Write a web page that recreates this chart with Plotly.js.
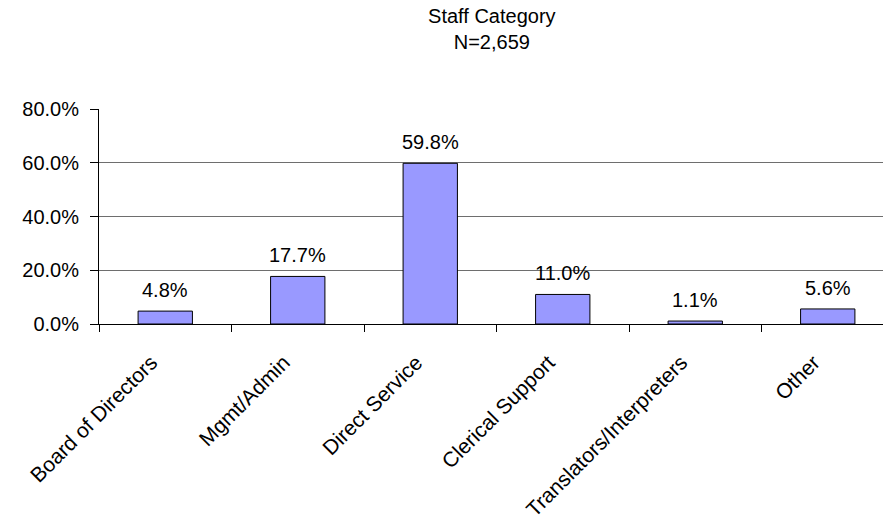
<!DOCTYPE html>
<html>
<head>
<meta charset="utf-8">
<script src="https://cdn.plot.ly/plotly-3.0.1.min.js"></script>
<style>html,body{margin:0;padding:0;background:#fff;}#chart{width:883px;height:529px;}</style>
</head>
<body>
<div id="chart"></div>
<script>
const categories = ["Board of Directors", "Mgmt/Admin", "Direct Service", "Clerical Support", "Translators/Interpreters", "Other"];
const percentages = [4.8, 17.7, 59.8, 11.0, 1.1, 5.6];
const yTickValues = [0, 20, 40, 60, 80];
const yTickLabels = ["0.0%", "20.0%", "40.0%", "60.0%", "80.0%"];
const chartTitle = "Staff Category<br>N=2,659";

const font = "Arial, 'Liberation Sans', sans-serif";
const fs = 20;

const trace = {
  type: "bar",
  x: categories,
  y: percentages,
  width: 0.41,
  marker: { color: "#9999FF", line: { color: "#000000", width: 1 } },
  hoverinfo: "none"
};

const labelAnnotations = categories.map((c, i) => ({
  x: c, y: percentages[i], xref: "x", yref: "y",
  text: percentages[i].toFixed(1) + "%",
  showarrow: false, xanchor: "center", yanchor: "bottom", yshift: 8,
  font: { family: font, size: fs, color: "#000" }
}));

const layout = {
  width: 883,
  height: 529,
  margin: { l: 99, r: 0, t: 109, b: 205, pad: 0 },
  paper_bgcolor: "#fff",
  plot_bgcolor: "#fff",
  showlegend: false,
  font: { family: font, size: fs, color: "#000" },
  title: {
    text: chartTitle,
    font: { family: font, size: fs, color: "#000" },
    x: 0.557, xref: "container", xanchor: "center",
    y: 0.957, yref: "container", yanchor: "top"
  },
  annotations: labelAnnotations,
  xaxis: {
    type: "category",
    range: [-0.5, 5.417],
    tickson: "boundaries",
    ticks: "outside",
    ticklen: 7,
    tickcolor: "#000",
    tickwidth: 1,
    tickangle: -45,
    ticklabelstandoff: 17,
    ticklabelshift: -14,
    showline: true,
    linecolor: "#000",
    linewidth: 1,
    showgrid: false,
    tickfont: { family: font, size: 21, color: "#000" },
    fixedrange: true
  },
  yaxis: {
    range: [0, 80],
    tickvals: yTickValues,
    ticktext: yTickLabels,
    ticks: "outside",
    ticklen: 8,
    tickcolor: "#000",
    ticklabelstandoff: 7,
    showline: true,
    linecolor: "#000",
    linewidth: 1,
    showgrid: true,
    gridcolor: "#6e6e6e",
    gridwidth: 1,
    zeroline: true,
    zerolinecolor: "#000",
    zerolinewidth: 1,
    tickfont: { family: font, size: fs, color: "#000" },
    fixedrange: true
  },
  bargap: 0
};

Plotly.newPlot("chart", [trace], layout, { displayModeBar: false, staticPlot: true });
</script>
</body>
</html>
